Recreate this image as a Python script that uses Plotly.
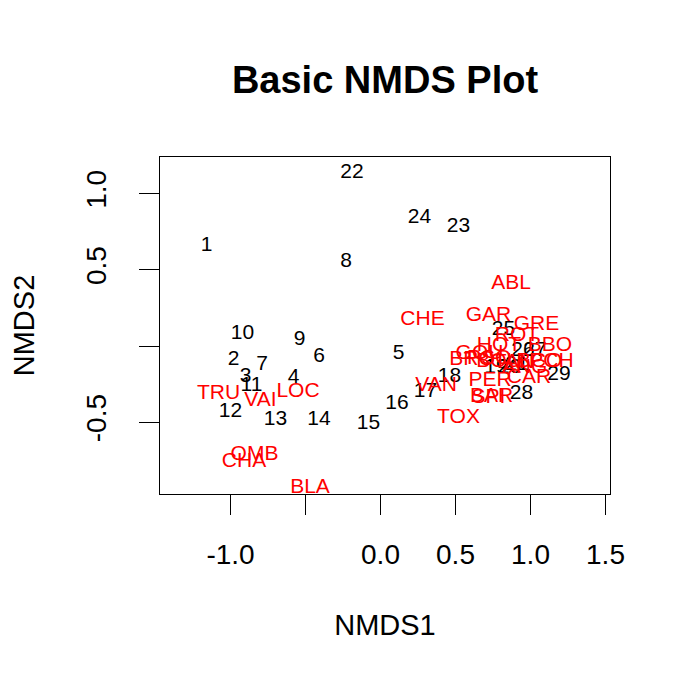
import plotly.graph_objects as go

# site scores (NMDS1, NMDS2)
site_labels = [str(i) for i in range(1, 30)]
site_x = [-1.16, -0.98, -0.90, -0.58, 0.12, -0.41, -0.79, -0.23, -0.54, -0.92,
          -0.86, -1.00, -0.70, -0.41, -0.08, 0.11, 0.30, 0.46, 0.77, 0.86,
          0.91, -0.19, 0.52, 0.26, 0.82, 0.95, 1.03, 0.94, 1.19]
site_y = [0.66, -0.09, -0.20, -0.21, -0.05, -0.07, -0.12, 0.55, 0.04, 0.08,
          -0.26, -0.43, -0.48, -0.48, -0.51, -0.38, -0.30, -0.20, -0.14, -0.145,
          -0.125, 1.14, 0.78, 0.84, 0.11, -0.03, -0.03, -0.31, -0.19]

# species scores
sp_labels = ["CHA", "TRU", "VAI", "LOC", "OMB", "BLA", "HOT", "TOX", "VAN",
             "CHE", "BAR", "SPI", "GOU", "BRO", "PER", "BOU", "PSO", "ROT",
             "CAR", "TAN", "BCO", "PCH", "GRE", "GAR", "BBO", "ABL", "ANG"]
sp_x = [-0.91, -1.08, -0.80, -0.55, -0.84, -0.47, 0.79, 0.52, 0.37,
        0.28, 0.74, 0.72, 0.66, 0.61, 0.73, 0.79, 0.725, 0.91,
        0.99, 0.89, 1.06, 1.14, 1.04, 0.72, 1.13, 0.87, 0.96]
sp_y = [-0.76, -0.31, -0.36, -0.30, -0.71, -0.93, 0.00, -0.47, -0.26,
        0.17, -0.33, -0.34, -0.05, -0.09, -0.23, -0.10, -0.08, 0.065,
        -0.21, -0.11, -0.10, -0.10, 0.14, 0.20, 0.00, 0.41, -0.145]

x_ticks = [-1.0, -0.5, 0.0, 0.5, 1.0, 1.5]
x_ticktext = ["-1.0", "", "0.0", "0.5", "1.0", "1.5"]
y_ticks = [-0.5, 0.0, 0.5, 1.0]
y_ticktext = ["-0.5", "", "0.5", "1.0"]

FONT = "Liberation Sans, Arial, sans-serif"

fig = go.Figure()
fig.add_trace(go.Scatter(
    x=site_x, y=site_y, text=site_labels, mode="text",
    textfont=dict(color="black", size=21, family=FONT),
    textposition="middle center", showlegend=False,
))
fig.add_trace(go.Scatter(
    x=sp_x, y=sp_y, text=sp_labels, mode="text",
    textfont=dict(color="red", size=21, family=FONT),
    textposition="middle center", showlegend=False,
))

axis_common = dict(
    showgrid=False, zeroline=False, showline=True, mirror=True,
    linecolor="black", linewidth=1, ticks="outside", ticklen=20,
    tickcolor="black", tickfont=dict(size=28, color="black", family=FONT),
)
fig.update_xaxes(
    range=[-1.47, 1.53], tickvals=x_ticks, ticktext=x_ticktext,
    ticklabelstandoff=15,
    title=dict(text="NMDS1", font=dict(size=29, color="black", family=FONT), standoff=46),
    **axis_common,
)
fig.update_yaxes(
    range=[-0.97, 1.24], tickvals=y_ticks, ticktext=y_ticktext,
    tickangle=-90, ticklabelstandoff=22,
    title=dict(text="NMDS2", font=dict(size=29, color="black", family=FONT), standoff=40),
    **axis_common,
)
fig.update_layout(
    width=691, height=691,
    margin=dict(l=149, r=89, t=149, b=205),
    paper_bgcolor="white", plot_bgcolor="white",
    title=dict(text="<b>Basic NMDS Plot</b>", x=0.5, xref="paper",
               y=1 - 72 / 691, yref="container", yanchor="middle",
               font=dict(size=38, color="black", family=FONT)),
    font=dict(family=FONT),
)
fig.write_html("out.html")
